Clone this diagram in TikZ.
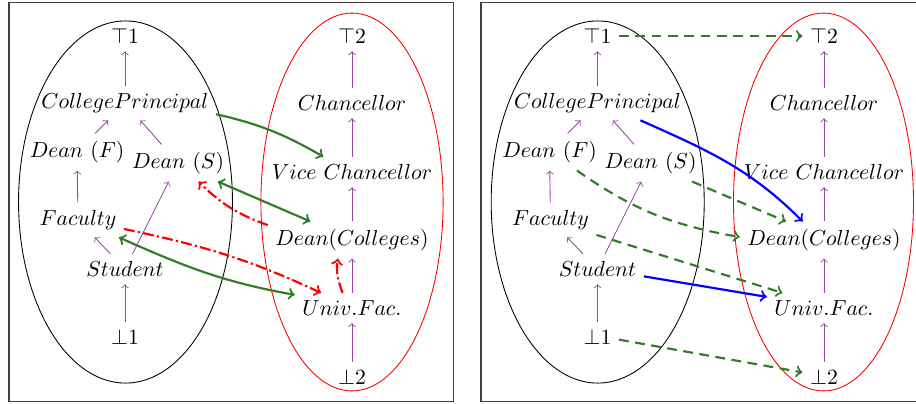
\documentclass[tikz,border=0pt]{standalone}
\usetikzlibrary{arrows}
\definecolor{pur}{RGB}{150,70,160}
\definecolor{gr}{RGB}{50,125,40}
\begin{document}
\begin{tikzpicture}[x=0.46pt,y=-0.46pt,
  frame/.style={draw=black!75,line width=0.65pt},
  hier/.style={draw=pur,->},
  conn/.style={line width=1pt,->},
  grs/.style={conn,draw=gr},
  grd/.style={conn,draw=gr,dash pattern=on 4.5pt off 3pt},
  rdd/.style={conn,draw=red,dash pattern=on 5pt off 1.5pt on 1pt off 1.5pt},
  bls/.style={conn,draw=blue}]
\useasboundingbox (0,0) rectangle (916,403);
\clip (0,0) rectangle (916,403);
% frames
\draw[frame] (9,2.5) rectangle (453.5,401.5);
\draw[frame] (481,2.5) rectangle (935,401.5);
% ellipses
\draw (125.5,202) ellipse [x radius=49.2pt, y radius=83.3pt];
\draw[red] (352,202) ellipse [x radius=41.9pt, y radius=86.9pt];
\draw (597.7,202) ellipse [x radius=49.0pt, y radius=83.3pt];
\draw[red] (823.5,202) ellipse [x radius=41.4pt, y radius=86.9pt];
% ---------- left panel nodes
\node (aT1) at (125,36) {$\top 1$};
\node (aCP) at (125,103) {$CollegePrincipal$};
\node (aDF) at (77,152) {$Dean\ (F)$};
\node (aDS) at (178,163) {$Dean\ (S)$};
\node (aFac) at (78,220) {$Faculty$};
\node (aSt) at (125,269) {$Student$};
\node (aB1) at (125,337) {$\bot 1$};
\node (aT2) at (352,36) {$\top 2$};
\node (aCh) at (352,103) {$Chancellor$};
\node (aVC) at (352,172) {$Vice\ Chancellor$};
\node (aDC) at (352,240) {$Dean(Colleges)$};
\node (aUF) at (352,308) {$Univ.Fac.$};
\node (aB2) at (352,377) {$\bot 2$};
% ---------- right panel nodes
\node (bT1) at (597.5,36) {$\top 1$};
\node (bCP) at (597.5,103) {$CollegePrincipal$};
\node (bDF) at (549.5,152) {$Dean\ (F)$};
\node (bDS) at (650.5,163) {$Dean\ (S)$};
\node (bFac) at (550.5,220) {$Faculty$};
\node (bSt) at (597.5,269) {$Student$};
\node (bB1) at (597.5,337) {$\bot 1$};
\node (bT2) at (824,36) {$\top 2$};
\node (bCh) at (824,103) {$Chancellor$};
\node (bVC) at (824,172) {$Vice\ Chancellor$};
\node (bDC) at (824,240) {$Dean(Colleges)$};
\node (bUF) at (824,308) {$Univ.Fac.$};
\node (bB2) at (824,377) {$\bot 2$};
% ---------- hierarchy arrows
\foreach \p in {a,b}{
  \draw[hier] (\p CP) -- (\p T1);
  \draw[hier] (\p DF) -- (\p CP);
  \draw[hier] (\p DS) -- (\p CP);
  \draw[hier] (\p Fac) -- (\p DF);
  \draw[hier] (\p St) -- (\p DS);
  \draw[hier] (\p St) -- (\p Fac);
  \draw[hier] (\p B1) -- (\p St);
  \draw[hier] (\p Ch) -- (\p T2);
  \draw[hier] (\p VC) -- (\p Ch);
  \draw[hier] (\p DC) -- (\p VC);
  \draw[hier] (\p UF) -- (\p DC);
  \draw[hier] (\p B2) -- (\p UF);
}
% ---------- left panel connectors
\draw[grs] (aCP.-7) to[out=-13,in=150] (aVC.152);
\draw[grs,<->] (aDS.-25) -- (aDC.156);
\draw[rdd] (aDC.170) to[out=160,in=-45] (aDS.-42);
\draw[rdd] (aFac.-11) to[out=-12,in=155] (aUF.154);
\draw[rdd] (aUF.122) to[out=110,in=-100] (aDC.-127);
\draw[grs,<->] (aFac.-23) to[out=-24,in=170] (aUF.167);
% ---------- right panel connectors
\draw[grd] (bT1.east) -- (bT2.west);
\draw[bls] (bCP.-22) to[out=-24,in=135] (bDC.139);
\draw[grd] (bDF.-34) to[out=-35,in=170] (bDC.178);
\draw[grd] (bDS.-24) -- (bDC.154);
\draw[grd] (bFac.-18) -- (bUF.160);
\draw[bls] (bSt.-9) -- (bUF.169);
\draw[grd] (bB1.-7) -- (bB2.168);
\end{tikzpicture}
\end{document}
